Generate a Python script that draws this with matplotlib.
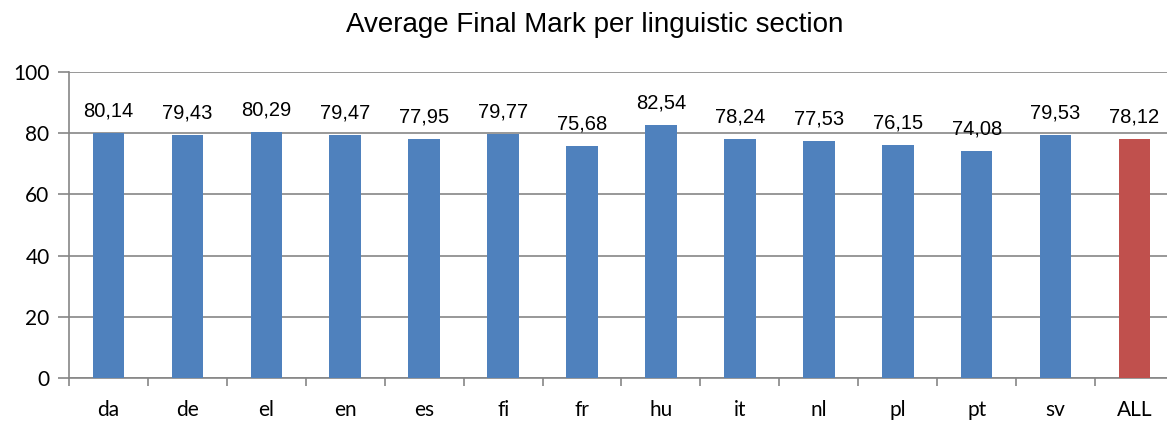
import matplotlib.pyplot as plt
import numpy as np

sections = ["da", "de", "el", "en", "es", "fi", "fr", "hu", "it", "nl", "pl", "pt", "sv", "ALL"]
marks = [80.14, 79.43, 80.29, 79.47, 77.95, 79.77, 75.68, 82.54, 78.24, 77.53, 76.15, 74.08, 79.53, 78.12]
yticks = [0, 20, 40, 60, 80, 100]

blue = "#4F81BD"
red = "#C0504D"
grey = "#868686"

fig = plt.figure(figsize=(11.67, 4.23), dpi=100)
# plot area runs a little past the right edge of the picture, as in the original
ax = fig.add_axes([69 / 1167, 45 / 423, 1105 / 1167, 306 / 423])

x = np.arange(len(sections))
colors = [blue] * (len(sections) - 1) + [red]
bars = ax.bar(x, marks, width=0.4, color=colors, zorder=3)

for b, v in zip(bars, marks):
    ax.annotate(f"{v:.2f}".replace(".", ","), (b.get_x() + b.get_width() / 2, v),
                xytext=(0, 9), textcoords="offset points", ha="center", va="bottom",
                fontsize=14.5, family="Liberation Sans")

ax.set_xlim(-0.5, len(sections) - 0.5)
ax.set_ylim(0, 100)
ax.set_yticks(yticks)
ax.yaxis.grid(True, color=grey, linewidth=1.2, zorder=0)

ax.set_xticks(x)
ax.set_xticklabels(sections, family="Lato", fontsize=15)
ax.set_xticks(np.arange(-0.5, len(sections), 1), minor=True)
ax.tick_params(axis="x", which="major", length=0, pad=16)
ax.tick_params(axis="x", which="minor", length=6, width=1.2, color=grey, direction="out")
ax.tick_params(axis="y", length=8, width=1.2, color=grey, direction="out", pad=6)
for lab in ax.get_yticklabels():
    lab.set_family("Lato")
    lab.set_fontsize(15)

for s in ["top", "right"]:
    ax.spines[s].set_visible(False)
for s in ["left", "bottom"]:
    ax.spines[s].set_color(grey)
    ax.spines[s].set_linewidth(1.2)

fig.suptitle("Average Final Mark per linguistic section", x=595 / 1167, y=1 - 25 / 423,
             fontsize=20, family="Liberation Sans", va="center")

fig.savefig("out.png", dpi=100)
